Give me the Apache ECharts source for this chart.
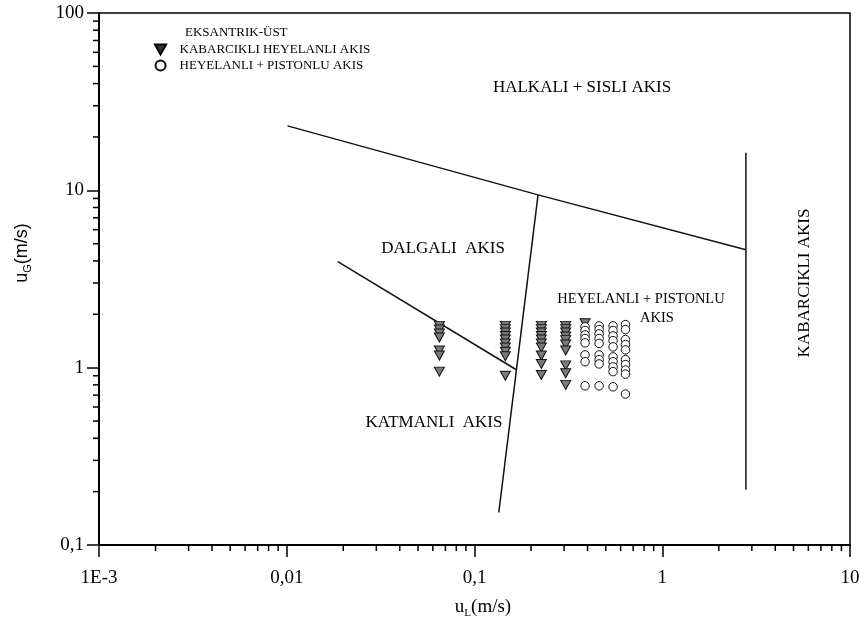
<!DOCTYPE html>
<html>
<head>
<meta charset="utf-8">
<script src="https://cdn.jsdelivr.net/npm/echarts@6/dist/echarts.min.js"></script>
<style>html,body{margin:0;padding:0;background:#fff}#c{width:864px;height:631px}</style>
</head>
<body>
<div id="c"></div>
<script>
// ---- data ----
var xTickLabels = ['1E-3', '0,01', '0,1', '1', '10'];
var yTickLabels = ['0,1', '1', '10', '100'];
var xMinorTicks = [0.002,0.003,0.004,0.005,0.006,0.007,0.008,0.009,
                   0.02,0.03,0.04,0.05,0.06,0.07,0.08,0.09,
                   0.2,0.3,0.4,0.5,0.6,0.7,0.8,0.9,
                   2,3,4,5,6,7,8,9];
var yMinorTicks = [0.2,0.3,0.4,0.5,0.6,0.7,0.8,0.9,
                   2,3,4,5,6,7,8,9,
                   20,30,40,50,60,70,80,90];

// KABARCIKLI HEYELANLI AKIS (down triangles): uL columns and uG values
var triX = [0.065, 0.146, 0.227, 0.306, 0.388];
var triY = [
  [1.72, 1.64, 1.56, 1.48, 1.25, 1.17, 0.95],
  [1.72, 1.65, 1.58, 1.51, 1.44, 1.37, 1.30, 1.23, 1.16, 0.90],
  [1.72, 1.65, 1.58, 1.51, 1.44, 1.37, 1.30, 1.17, 1.05, 0.91],
  [1.72, 1.65, 1.58, 1.50, 1.43, 1.35, 1.25, 1.03, 0.93, 0.80],
  [1.78]
];
// HEYELANLI + PISTONLU AKIS (open circles)
var cirX = [0.388, 0.461, 0.547, 0.637];
var cirY = [
  [1.70, 1.62, 1.53, 1.46, 1.38, 1.18, 1.08, 0.79],
  [1.72, 1.64, 1.55, 1.46, 1.37, 1.18, 1.11, 1.05, 0.79],
  [1.72, 1.62, 1.51, 1.42, 1.31, 1.15, 1.08, 1.01, 0.95, 0.78],
  [1.75, 1.64, 1.44, 1.35, 1.26, 1.11, 1.04, 0.97, 0.92, 0.71]
];
// flow-regime boundary lines [uL, uG]
var boundaryTop = [[0.0101, 23.1], [0.218, 9.43], [2.79, 4.62]];
var boundaryStrat = [[0.0187, 3.96], [0.168, 0.97]];
var boundarySteep = [[0.1347, 0.1525], [0.218, 9.43]];
var boundaryBubble = [[2.79, 16.3], [2.79, 0.205]];

var seriesNames = ['KABARCIKLI HEYELANLI AKIS', 'HEYELANLI + PISTONLU AKIS'];

function pairs(xs, ys) {
  var out = [];
  for (var i = 0; i < xs.length; i++)
    for (var j = 0; j < ys[i].length; j++) out.push([xs[i], ys[i][j]]);
  return out;
}
function expIndex(v, base) { return Math.round(Math.log(v) / Math.LN10) - base; }

var SERIF = '"Liberation Serif", "Times New Roman", serif';
var chart = echarts.init(document.getElementById('c'));

function lineSeries(data) {
  return {
    type: 'line', data: data, symbol: 'none', silent: true, z: 3,
    lineStyle: { color: '#111', width: 1.5 }
  };
}
function tickSeries(vals, isX) {
  return {
    type: 'custom', silent: true, clip: false, z: 5,
    data: vals.map(function (v) { return isX ? [v, 0.1] : [0.001, v]; }),
    renderItem: function (params, api) {
      var p = api.coord([api.value(0), api.value(1)]);
      var shape = isX ? { x1: p[0], y1: p[1], x2: p[0], y2: p[1] + 6 }
                      : { x1: p[0] - 6, y1: p[1], x2: p[0], y2: p[1] };
      return { type: 'line', shape: shape, style: { stroke: '#000', lineWidth: 1.5 } };
    }
  };
}

chart.setOption({
  animation: false,
  backgroundColor: '#fff',
  title: {
    text: 'EKSANTRIK-ÜST', left: 180, top: 21,
    textStyle: { fontFamily: SERIF, fontSize: 13, fontWeight: 'normal', color: '#000' }
  },
  legend: {
    orient: 'vertical', left: 149, top: 38, itemWidth: 28, itemHeight: 10, itemGap: 3,
    textStyle: { fontFamily: SERIF, fontSize: 13, color: '#000' },
    data: [
      { name: seriesNames[0], icon: 'path://M0,0L10,0L5,9Z', itemStyle: { color: '#333', borderColor: '#000' } },
      { name: seriesNames[1], icon: 'circle' }
    ]
  },
  grid: { left: 99, top: 13, width: 751, height: 532, show: true, borderColor: '#000', borderWidth: 1.5, backgroundColor: 'transparent' },
  xAxis: {
    type: 'log', logBase: 10, min: 0.001, max: 10,
    name: '{n|u}{s|L}{n|(m/s)}', nameLocation: 'middle', nameGap: 53,
    nameTextStyle: {
      padding: [0, 0, 0, 17],
      rich: {
        n: { fontFamily: SERIF, fontSize: 19, color: '#000', verticalAlign: 'top', lineHeight: 21 },
        s: { fontFamily: SERIF, fontSize: 11, color: '#000', verticalAlign: 'top', lineHeight: 11, padding: [10, 0, 0, 0] }
      }
    },
    axisLine: { lineStyle: { color: '#000', width: 2 } },
    axisTick: { show: true, length: 12, lineStyle: { color: '#000', width: 1.5 } },
    axisLabel: {
      margin: 24, fontFamily: SERIF, fontSize: 19, color: '#000',
      formatter: function (v) { return xTickLabels[expIndex(v, -3)]; }
    },
    splitLine: { show: false }
  },
  yAxis: {
    type: 'log', logBase: 10, min: 0.1, max: 100,
    name: '{n|u}{s|G}{n|(m/s)}', nameLocation: 'middle', nameGap: 66,
    nameTextStyle: {
      padding: [0, 0, 0, 52],
      rich: {
        n: { fontFamily: '"Liberation Sans", Arial, sans-serif', fontSize: 18, color: '#000', verticalAlign: 'top', lineHeight: 20 },
        s: { fontFamily: '"Liberation Sans", Arial, sans-serif', fontSize: 11, color: '#000', verticalAlign: 'top', lineHeight: 11, padding: [9, 0, 0, 0] }
      }
    },
    axisLine: { lineStyle: { color: '#000', width: 2 } },
    axisTick: { show: true, length: 12, lineStyle: { color: '#000', width: 1.5 } },
    axisLabel: {
      margin: 15, fontFamily: SERIF, fontSize: 19, color: '#000',
      formatter: function (v) { return yTickLabels[expIndex(v, -1)]; }
    },
    splitLine: { show: false }
  },
  graphic: [
    { type: 'text', x: 582, y: 88, style: { text: 'HALKALI + SISLI AKIS', font: '17px ' + SERIF, fill: '#000', align: 'center', verticalAlign: 'middle' } },
    { type: 'text', x: 443, y: 249, style: { text: 'DALGALI  AKIS', font: '17px ' + SERIF, fill: '#000', align: 'center', verticalAlign: 'middle' } },
    { type: 'text', x: 641, y: 299, style: { text: 'HEYELANLI + PISTONLU', font: '14.5px ' + SERIF, fill: '#000', align: 'center', verticalAlign: 'middle' } },
    { type: 'text', x: 657, y: 318, style: { text: 'AKIS', font: '14.5px ' + SERIF, fill: '#000', align: 'center', verticalAlign: 'middle' } },
    { type: 'text', x: 434, y: 423, style: { text: 'KATMANLI  AKIS', font: '17px ' + SERIF, fill: '#000', align: 'center', verticalAlign: 'middle' } },
    { type: 'text', x: 805, y: 283, rotation: Math.PI / 2, style: { text: 'KABARCIKLI AKIS', font: '17px ' + SERIF, fill: '#000', align: 'center', verticalAlign: 'middle' } }
  ],
  series: [
    lineSeries(boundaryTop),
    lineSeries(boundaryStrat),
    lineSeries(boundarySteep),
    lineSeries(boundaryBubble),
    tickSeries(xMinorTicks, true),
    tickSeries(yMinorTicks, false),
    {
      name: seriesNames[0], type: 'scatter', z: 4,
      data: pairs(triX, triY),
      symbol: 'triangle', symbolRotate: 180, symbolSize: [10, 9],
      itemStyle: { color: '#7a7a7a', borderColor: '#111', borderWidth: 1, opacity: 1 }
    },
    {
      name: seriesNames[1], type: 'scatter', z: 4,
      data: pairs(cirX, cirY),
      symbol: 'circle', symbolSize: 8.5,
      itemStyle: { color: '#fff', borderColor: '#111', borderWidth: 1, opacity: 1 }
    }
  ]
});
</script>
</body>
</html>
